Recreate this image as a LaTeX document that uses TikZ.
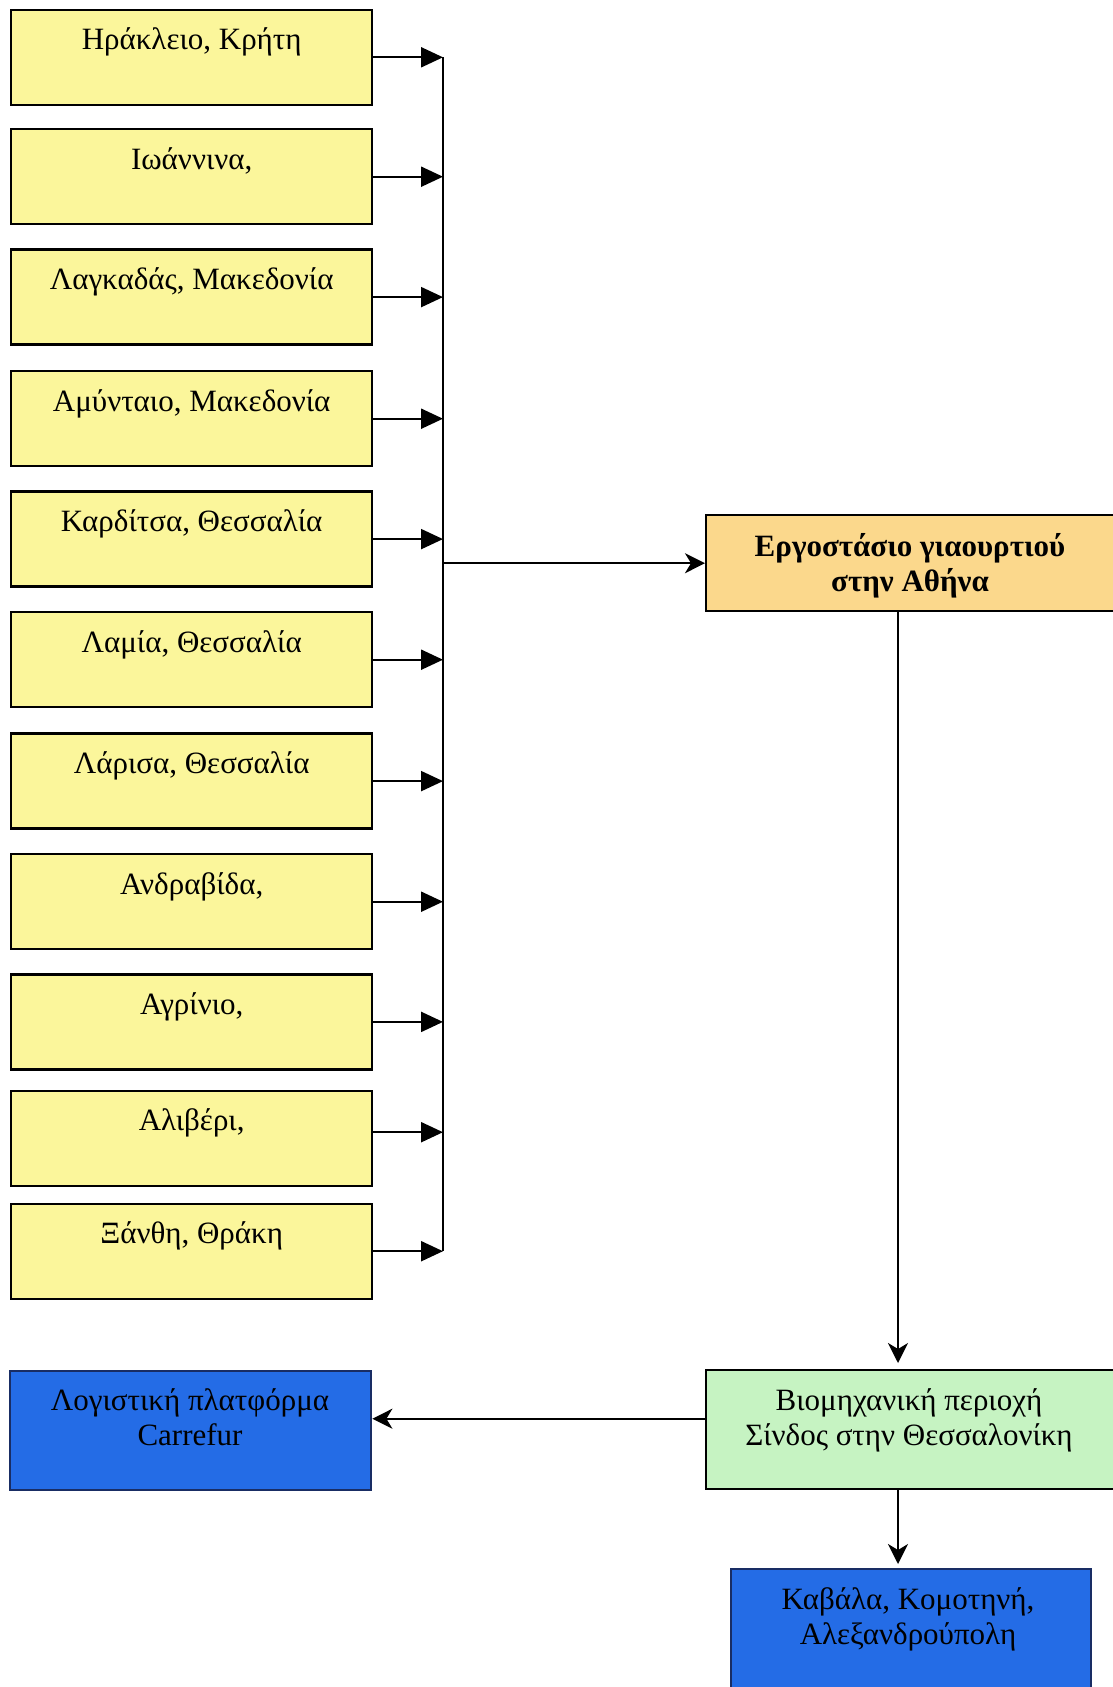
\documentclass[tikz,border=0pt]{standalone}
\usepackage{fontspec}
\setmainfont{Liberation Serif}
\usetikzlibrary{arrows.meta}

\definecolor{originfill}{RGB}{251,246,155}
\definecolor{factoryfill}{RGB}{251,216,140}
\definecolor{hubfill}{RGB}{198,243,194}
\definecolor{destfill}{RGB}{36,108,230}
\definecolor{destdraw}{RGB}{25,45,100}

\begin{document}
\begin{tikzpicture}[x=1pt,y=-1pt,
  label font/.style={font=\fontsize{31}{35}\selectfont},
  box/.style={draw=black, line width=2.4pt, inner sep=0pt, anchor=north west},
  origin/.style={box, label font, fill=originfill, minimum width=361pt,
    text height=40pt, text depth=55pt},
  caption/.style={label font, align=center, inner sep=0pt},
  wire/.style={line width=2.2pt, draw=black},
  feed/.style={wire, -{Triangle[length=22pt,width=20pt]}},
  flow/.style={wire, -{Stealth[length=20pt,width=20pt,inset=6pt]}}]

\useasboundingbox (0,0) rectangle (1112,1687);

% milk collection points
\node[origin] (o1)  at (10,8.6)    {Ηράκλειο, Κρήτη};
\node[origin] (o2)  at (10,128)    {Ιωάννινα,};
\node[origin] (o3)  at (10,248.4)  {Λαγκαδάς, Μακεδονία};
\node[origin] (o4)  at (10,370)    {Αμύνταιο, Μακεδονία};
\node[origin] (o5)  at (10,490.4)  {Καρδίτσα, Θεσσαλία};
\node[origin] (o6)  at (10,611)    {Λαμία, Θεσσαλία};
\node[origin] (o7)  at (10,732.4)  {Λάρισα, Θεσσαλία};
\node[origin] (o8)  at (10,853)    {Ανδραβίδα,};
\node[origin] (o9)  at (10,973.2)  {Αγρίνιο,};
\node[origin] (o10) at (10,1089.5) {Αλιβέρι,};
\node[origin] (o11) at (10,1202.5) {Ξάνθη, Θράκη};

% factory, distribution hub and destinations
\node[box, fill=factoryfill, minimum width=430pt, minimum height=96pt] (factory) at (705,514) {};
\node[caption, font=\fontsize{31}{35}\selectfont\bfseries] (factorytext) at (910,566.5)
  {\strut Εργοστάσιο γιαουρτιού\\\strut στην Αθήνα};

\node[box, fill=hubfill, minimum width=430pt, minimum height=119pt] (hub) at (705,1369) {};
\node[caption] (hubtext) at (909,1420.5)
  {\strut Βιομηχανική περιοχή\\\strut Σίνδος στην Θεσσαλονίκη};

\node[box, draw=destdraw, fill=destfill, minimum width=361pt, minimum height=119pt] (carrefur) at (9,1370) {};
\node[caption] (carrefurtext) at (190,1420.5)
  {\strut Λογιστική πλατφόρμα\\\strut Carrefur};

\node[box, draw=destdraw, fill=destfill, minimum width=360pt, minimum height=140pt] (dest) at (730,1568) {};
\node[caption] (desttext) at (908,1620)
  {\strut Καβάλα, Κομοτηνή,\\\strut Αλεξανδρούπολη};

% collection bus
\coordinate (busx) at (443,0);
\draw[wire] (o1.east -| busx) -- (o11.east -| busx);
\foreach \i in {1,...,9,11}
  \draw[feed] (o\i.east) -- (o\i.east -| busx);
\draw[feed] ([yshift=6pt]o10.east) -- ([yshift=6pt]o10.east -| busx);

% bus into the factory
\draw[flow] (busx |- factory.west) -- (factory.west);

% factory down to the hub
\coordinate (drop) at ([xshift=193pt]factory.south west);
\draw[flow, shorten >=6pt] (drop) -- (drop |- hub.north);

% hub to the Carrefur platform
\draw[flow] ([yshift=11pt]hub.west) -- ([yshift=11pt]hub.west -| carrefur.east);

% hub down to the eastern cities
\coordinate (drop2) at ([xshift=193pt]hub.south west);
\draw[flow, shorten >=4pt] (drop2) -- (drop2 |- dest.north);

\end{tikzpicture}
\end{document}
